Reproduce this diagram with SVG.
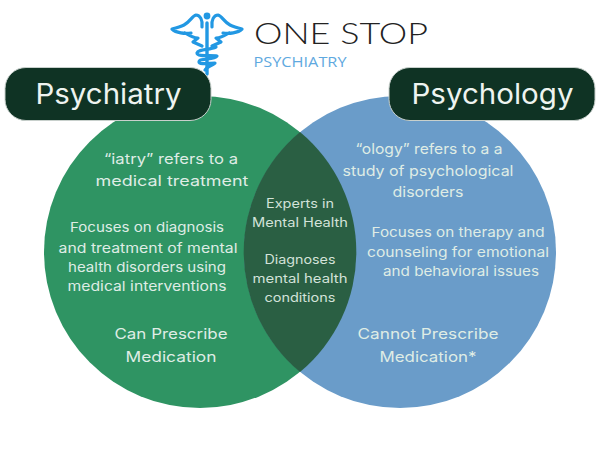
<svg xmlns="http://www.w3.org/2000/svg" width="600" height="450" viewBox="0 0 600 450">
<style>
text{font-family:"Inter","Liberation Sans",sans-serif;text-anchor:middle;fill:#dfece5}
.h{font-size:28px;fill:#eef4f0}
.t{font-size:14.5px}
.m{font-size:12.5px;fill:#d3e2d9}
.s{font-size:13.5px}
.b{font-size:14.5px}
.logo{fill:none;stroke:#2298e3;stroke-linecap:round;stroke-linejoin:round}
.pill{fill:#0f3324;stroke:#c8d0cc;stroke-width:1}
</style>
<rect width="600" height="450" fill="#fff"/>
<g id="logo">
<circle cx="207" cy="16" r="3.4" fill="#2298e3"/>
<path class="logo" stroke-width="3.400" d="M207 23V74"/>
<path class="logo" stroke-width="3.200" d="M202 27C203 20 200 15 196 15C192 16 190 22 184 25C180 27 176 28 172 29C176 33 185 34 191 33M185 33C190 36 194 38 198 38L193 42L202 46"/>
<path class="logo" stroke-width="3.200" d="M212 27C211 20 214 15 218 15C222 16 224 22 230 25C234 27 238 28 242 29C238 33 229 34 223 33M229 33C224 36 220 38 216 38L221 42L212 46"/>
<path class="logo" stroke-width="3.200" d="M216 47C210 50 198 49 197 53C197 57 212 55 217 56C214 60 199 58 199 62C199 65 210 63 215 63C212 66 206 67 205 70"/>
<text x="341" y="44" style="font-family:'Lato','Liberation Sans',sans-serif;font-weight:300;font-size:30px;fill:#222" textLength="174" lengthAdjust="spacingAndGlyphs">ONE STOP</text>
<text x="300" y="67" style="font-family:'Open Sans','Liberation Sans',sans-serif;font-size:15px;fill:#5fa9e0" textLength="93" lengthAdjust="spacingAndGlyphs">PSYCHIATRY</text>
</g>
<g id="circle-psychiatry"><circle cx="200" cy="252" r="156" fill="#2f9463"/></g>
<g id="circle-psychology"><circle cx="400" cy="252" r="156" fill="#6a9cc9"/></g>
<g id="overlap"><path d="M300 132A156 156 0 0 1 300 372A156 156 0 0 1 300 132Z" fill="#2a5f43"/></g>
<g id="node-psychiatry">
<rect class="pill" x="5" y="67.500" width="206" height="53" rx="21"/>
<text class="h" x="108.500" y="104" textLength="146" lengthAdjust="spacingAndGlyphs">Psychiatry</text>
</g>
<g id="node-psychology">
<rect class="pill" x="389" y="67.500" width="206" height="53" rx="21"/>
<text class="h" x="492.500" y="104" textLength="162" lengthAdjust="spacingAndGlyphs">Psychology</text>
</g>
<g id="text-left">
<text class="t" x="171" y="164" textLength="134" lengthAdjust="spacingAndGlyphs">“iatry” refers to a</text>
<text class="t" x="172" y="186" textLength="153" lengthAdjust="spacingAndGlyphs">medical treatment</text>
<text class="s" x="147" y="232" textLength="154" lengthAdjust="spacingAndGlyphs">Focuses on diagnosis</text>
<text class="s" x="148" y="253" textLength="179" lengthAdjust="spacingAndGlyphs">and treatment of mental</text>
<text class="s" x="147" y="272" textLength="158" lengthAdjust="spacingAndGlyphs">health disorders using</text>
<text class="s" x="147" y="291" textLength="159" lengthAdjust="spacingAndGlyphs">medical interventions</text>
<text class="b" x="171" y="339" textLength="113" lengthAdjust="spacingAndGlyphs">Can Prescribe</text>
<text class="b" x="171" y="362" textLength="91" lengthAdjust="spacingAndGlyphs">Medication</text>
</g>
<g id="text-middle">
<text class="m" x="300" y="208" textLength="68" lengthAdjust="spacingAndGlyphs">Experts in</text>
<text class="m" x="300" y="227" textLength="96" lengthAdjust="spacingAndGlyphs">Mental Health</text>
<text class="m" x="300" y="264" textLength="71" lengthAdjust="spacingAndGlyphs">Diagnoses</text>
<text class="m" x="300" y="283" textLength="95" lengthAdjust="spacingAndGlyphs">mental health</text>
<text class="m" x="300" y="302" textLength="71" lengthAdjust="spacingAndGlyphs">conditions</text>
</g>
<g id="text-right">
<text class="t" x="429" y="154" textLength="147" lengthAdjust="spacingAndGlyphs">“ology” refers to a a</text>
<text class="t" x="428" y="176" textLength="171" lengthAdjust="spacingAndGlyphs">study of psychological</text>
<text class="t" x="428" y="197" textLength="71" lengthAdjust="spacingAndGlyphs">disorders</text>
<text class="s" x="458" y="237" textLength="173" lengthAdjust="spacingAndGlyphs">Focuses on therapy and</text>
<text class="s" x="458" y="257" textLength="182" lengthAdjust="spacingAndGlyphs">counseling for emotional</text>
<text class="s" x="461" y="276" textLength="156" lengthAdjust="spacingAndGlyphs">and behavioral issues</text>
<text class="b" x="428" y="339" textLength="141" lengthAdjust="spacingAndGlyphs">Cannot Prescribe</text>
<text class="b" x="428" y="362" textLength="97" lengthAdjust="spacingAndGlyphs">Medication*</text>
</g>
</svg>
